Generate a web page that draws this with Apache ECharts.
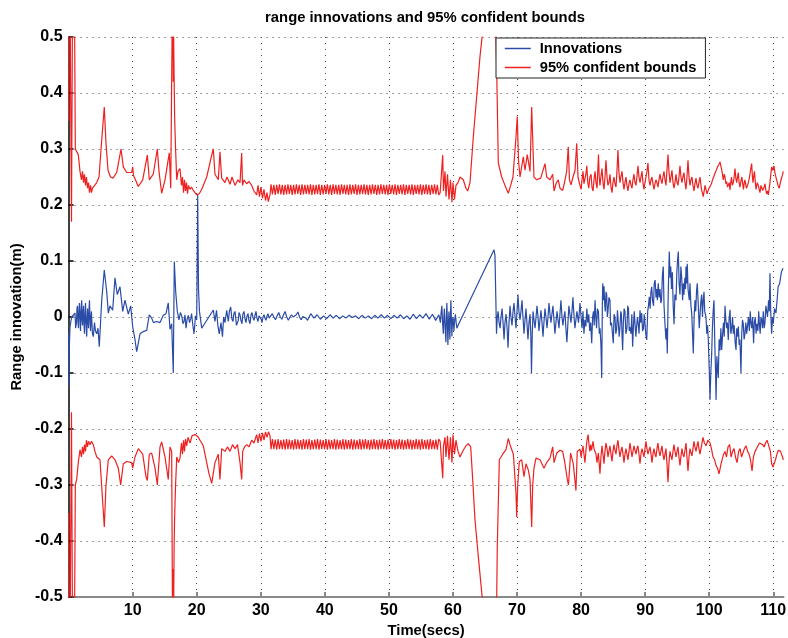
<!DOCTYPE html>
<html>
<head>
<meta charset="utf-8">
<script src="https://cdn.jsdelivr.net/npm/echarts@6/dist/echarts.min.js"></script>
<style>html,body{margin:0;padding:0;background:#fff;overflow:hidden}#c{width:788px;height:638px}</style>
</head>
<body>
<div id="c"></div>
<script>
const FONT = '"Liberation Sans", Arial, Helvetica, sans-serif';
const titleText = 'range innovations and 95% confident bounds';
const xName = 'Time(secs)';
const yName = 'Range innovation(m)';
const legendNames = ['Innovations', '95% confident bounds'];

const xTicks = [10, 20, 30, 40, 50, 60, 70, 80, 90, 100, 110];
const yTicks = [-0.5, -0.4, -0.3, -0.2, -0.1, 0, 0.1, 0.2, 0.3, 0.4, 0.5];

// Innovations [time, value], 0 s - 80 s
const innovationsStart = [
[0,-0.03],[0.05,-0.125],[0.1,-0.06],[0.22,-0.017],[0.48,0.0],[1.0,0.007],[1.1,-0.02],[1.23,-0.01],[1.31,0.015],[1.39,0.02],[1.47,-0.01],[1.55,-0.02],
[1.62,0.01],[1.7,0.025],[1.78,0.0],[1.86,-0.025],[1.95,0.012],[2.05,0.03],[2.1,-0.005],[2.17,-0.015],[2.25,0.008],[2.33,0.02],[2.4,-0.012],
[2.48,-0.03],[2.56,0.005],[2.64,0.025],[2.72,-0.01],[2.83,-0.035],[2.9,0.0],[2.95,0.015],[3.03,-0.005],[3.11,-0.02],[3.18,0.012],[3.26,0.03],
[3.34,-0.005],[3.42,-0.025],[3.5,0.0],[3.57,0.01],[3.65,-0.015],[3.73,-0.03],[3.86,-0.035],[4.04,-0.01],[4.2,-0.025],[4.39,-0.03],[4.59,-0.02],[4.79,-0.053],
[5.17,0.03],[5.57,0.084],[5.95,0.045],[6.2,0.007],[6.46,0.02],[6.88,0.012],[7.24,0.07],[7.6,0.04],[8.02,0.054],[8.45,0.01],[8.8,0.03],[9.32,0.005],
[9.69,0.02],[10.0,-0.017],[10.37,-0.041],[10.63,-0.062],[11.15,-0.03],[11.66,-0.026],[12.19,-0.024],[12.6,0.004],[12.97,-0.002],[13.25,-0.01],
[13.75,-0.008],[14.27,-0.01],[14.78,0.003],[15.2,0.006],[15.56,0.025],[15.83,-0.022],[16.09,-0.012],[16.34,-0.1],[16.5,0.099],[16.72,0.045],
[16.97,0.01],[17.23,-0.005],[17.45,0.008],[17.66,0.002],[17.85,-0.012],[18.01,-0.008],[18.17,0.004],[18.33,-0.02],[18.5,-0.004],[18.69,0.003],[18.88,-0.01],[19.06,-0.003],
[19.2,0.006],[19.37,-0.012],[19.58,-0.03],[19.81,0.002],[20.0,-0.005],[20.15,0.218],[20.28,0.05],[20.43,0.01],[20.5,0.0125],[20.78,-0.02],[22.59,0.0125],
[22.85,-0.008],[23.09,0.012],[23.3,-0.015],[23.52,-0.03],[23.79,-0.01],[24.02,-0.035],[24.2,0.0],[24.41,-0.01],[24.68,0.012],[24.93,-0.008],[25.1,0.01],[25.3,0.018],
[25.5,-0.004],[25.66,-0.008],[25.8,0.006],[25.98,0.01],[26.21,-0.015],[26.49,-0.006],[26.6,0.008],[26.76,0.004],[26.9,-0.006],[27.07,-0.012],[27.2,0.005],[27.38,0.01],
[27.55,-0.004],[27.69,-0.01],[27.85,0.002],[28.01,0.006],[28.15,-0.006],[28.32,-0.012],[28.48,0.004],[28.63,0.008],[28.8,-0.002],[28.94,-0.006],[29.1,0.003],[29.25,0.01],
[29.4,-0.002],[29.57,-0.008],[29.72,0.002],[29.88,0.005],[30.03,-0.003],[30.19,-0.01],[30.35,0.0],[30.5,0.004],[30.65,-0.002],[30.81,-0.006],[30.97,0.002],[31.13,0.006],
[31.3,-0.002],[31.44,-0.004],[31.8,0.006],[32.05,0.0],[32.3,-0.005],[32.55,0.002],[32.8,0.008],[33.05,0.0],[33.3,-0.004],[33.55,0.004],[33.8,0.01],[34.05,0.0],[34.3,-0.006],
[34.55,0.0],[34.8,0.004],[35.05,0.0],[35.3,-0.003],[35.55,0.004],[35.8,0.009],[36.05,0.0],[36.3,-0.005],[36.55,0.001],[36.8,0.003],[37.05,-0.002],[37.3,-0.006],
[37.55,0.0],[37.8,0.006],[38.3,-0.002],[38.8,0.004],[39.3,-0.004],[39.8,0.002],[40.3,-0.003],[40.8,0.004],[41.3,-0.002],[41.8,0.003],[42.3,-0.003],[42.8,0.002],
[43.3,-0.002],[43.8,0.003],[44.3,-0.001],[44.8,0.002],[45.3,-0.003],[45.8,0.003],[46.3,-0.002],[46.8,0.002],[47.3,-0.003],[47.8,0.003],[48.3,-0.002],
[48.8,0.004],[49.3,-0.002],[49.8,0.003],[50.3,-0.003],[50.8,0.003],[51.3,-0.002],[51.8,0.004],[52.3,-0.003],[52.8,0.002],[53.3,-0.004],[53.8,0.005],
[54.3,-0.003],[54.8,0.004],[55.3,-0.002],[55.8,0.006],[56.3,-0.004],[56.8,0.005],[57.3,-0.006],[57.8,0.004],[58.04,-0.01],[58.15,0.008],[58.27,0.02],
[58.38,-0.01],[58.5,-0.03],[58.58,0.0],[58.66,0.015],[58.78,-0.02],[58.9,-0.045],[58.97,0.0],[59.05,0.025],[59.13,-0.01],[59.21,-0.05],[59.29,-0.015],[59.37,0.01],
[59.45,-0.015],[59.52,-0.04],[59.6,0.0],[59.68,0.03],[59.75,0.0],[59.83,-0.035],[59.91,-0.01],[59.99,0.0],[60.07,-0.01],[60.15,-0.025],[60.27,-0.005],[60.38,0.005],
[60.5,-0.01],[60.62,-0.02],[60.79,-0.015],[66.41,0.12],[66.56,0.11],[66.8,-0.03],[66.92,0.0],[67.05,0.01],[67.2,-0.01],[67.36,-0.02],[67.5,0.0],[67.67,0.015],
[67.82,-0.01],[67.98,-0.04],[68.12,-0.01],[68.29,0.005],[68.45,-0.02],[68.6,-0.055],[68.75,-0.01],[68.91,0.02],[69.05,0.0],[69.22,-0.015],[69.38,0.01],[69.53,0.025],
[69.7,0.0],[69.84,-0.02],[70.0,0.01],[70.15,0.04],[70.3,0.01],[70.47,-0.005],[70.62,0.01],[70.78,0.03],[70.93,0.0],[71.09,-0.03],[71.25,-0.005],[71.4,0.015],
[71.55,-0.01],[71.71,-0.04],[71.87,-0.01],[72.03,0.005],[72.15,-0.03],[72.26,-0.1],[72.38,-0.03],[72.5,0.01],[72.65,-0.005],[72.81,-0.02],[72.97,0.0],[73.12,0.02],
[73.28,0.0],[73.43,-0.025],[73.58,-0.005],[73.74,0.012],[73.9,-0.01],[74.06,-0.035],[74.2,-0.01],[74.37,0.015],[74.52,0.0],[74.68,-0.02],[74.84,0.0],[74.99,0.025],
[75.15,0.005],[75.3,-0.01],[75.45,0.005],[75.61,0.02],[75.77,-0.005],[75.92,-0.03],[76.08,-0.01],[76.24,0.01],[76.4,-0.005],[76.55,-0.02],[76.7,0.005],[76.86,0.03],
[77.02,0.0],[77.17,-0.015],[77.32,0.0],[77.48,0.01],[77.63,-0.02],[77.79,-0.045],[77.95,-0.01],[78.1,0.02],[78.26,0.005],[78.42,-0.01],[78.58,0.01],[78.73,0.035],
[78.88,0.005],[79.04,-0.02],[79.2,-0.005],[79.35,0.01],[79.6,-0.01],[79.83,0.025]
];

// Innovations [time, value], 80 s - end
const innovationsEnd = [
[80.0,0.025],[80.15,-0.02],[80.3,0.01],[80.45,-0.03],[80.6,-0.005],[80.75,-0.017],[80.9,0.015],[81.05,-0.01],[81.2,0.005],[81.35,-0.025],
[81.5,-0.01],[81.66,-0.047],[81.8,0.0],[81.94,0.01],[82.05,-0.015],[82.18,0.03],[82.3,0.0],[82.42,-0.02],[82.55,0.015],[82.7,0.01],
[82.85,-0.03],[82.96,-0.02],[83.1,-0.05],[83.22,-0.109],[83.32,0.02],[83.38,0.06],[83.5,0.03],[83.58,0.055],[83.7,0.02],[83.78,0.01],
[83.9,0.045],[84.0,0.04],[84.1,0.0],[84.2,0.01],[84.35,0.035],[84.51,0.03],[84.6,-0.015],[84.75,-0.01],[84.9,-0.03],[85.03,-0.047],
[85.15,0.005],[85.29,0.0],[85.42,-0.03],[85.55,-0.022],[85.68,0.012],[85.8,0.01],[85.95,-0.035],[86.07,-0.018],[86.2,0.01],[86.3,0.005],
[86.4,-0.035],[86.49,-0.059],[86.6,-0.01],[86.72,0.015],[86.85,0.01],[87.0,-0.03],[87.16,-0.02],[87.28,0.02],[87.4,0.015],[87.52,-0.025],
[87.63,-0.018],[87.8,-0.03],[87.92,0.005],[88.05,-0.053],[88.2,-0.01],[88.3,0.01],[88.41,0.007],[88.55,-0.035],[88.65,-0.02],[88.8,0.0],
[88.93,-0.013],[89.05,-0.03],[89.2,0.012],[89.32,-0.01],[89.46,0.007],[89.6,-0.025],[89.74,-0.02],[89.86,0.005],[89.98,-0.013],[90.1,-0.03],
[90.25,-0.041],[90.4,0.01],[90.52,0.02],[90.65,0.036],[90.78,0.015],[90.9,0.045],[91.03,0.054],[91.15,0.03],[91.31,0.02],[91.42,0.06],
[91.56,0.066],[91.7,0.035],[91.8,0.05],[91.91,0.03],[92.05,0.06],[92.18,0.035],[92.32,0.05],[92.45,0.025],[92.56,0.03],[92.7,0.075],
[92.83,0.09],[92.95,0.02],[93.1,-0.013],[93.25,-0.04],[93.35,-0.02],[93.46,-0.065],[93.6,0.04],[93.77,0.117],[93.9,0.07],[94.0,0.09],
[94.12,0.05],[94.25,0.08],[94.38,0.02],[94.51,-0.013],[94.65,0.04],[94.82,0.03],[94.95,0.08],[95.05,0.1],[95.18,0.117],[95.3,0.06],
[95.44,0.04],[95.58,0.09],[95.71,0.07],[95.85,0.03],[95.95,0.06],[96.06,0.04],[96.2,0.07],[96.3,0.05],[96.38,0.09],[96.5,0.06],
[96.58,0.095],[96.7,0.05],[96.89,0.03],[97.0,0.06],[97.15,0.02],[97.27,0.007],[97.4,-0.03],[97.52,-0.065],[97.65,0.0],[97.78,0.03],
[97.9,0.01],[98.02,0.045],[98.14,0.06],[98.3,0.02],[98.45,-0.02],[98.6,0.01],[98.72,0.03],[98.83,0.04],[98.95,0.0],[99.07,0.03],
[99.19,0.045],[99.3,0.01],[99.5,0.0],[99.62,-0.03],[99.75,-0.015],[99.86,-0.041],[100.0,-0.09],[100.13,-0.148],[100.25,-0.1],[100.39,-0.065],
[100.5,-0.02],[100.62,0.01],[100.75,0.03],[100.88,-0.05],[101.0,-0.1],[101.07,-0.148],[101.2,-0.07],[101.3,-0.09],[101.42,-0.109],[101.55,-0.04],
[101.69,-0.06],[101.82,-0.02],[101.95,-0.059],[102.1,-0.03],[102.23,-0.01],[102.35,-0.035],[102.47,0.02],[102.6,-0.005],[102.73,-0.02],[102.85,-0.01],
[102.98,-0.041],[103.1,-0.005],[103.25,0.013],[103.38,-0.03],[103.52,-0.02],[103.65,0.0],[103.77,-0.03],[103.9,-0.015],[104.05,-0.045],[104.19,-0.059],
[104.3,-0.02],[104.42,-0.035],[104.55,-0.017],[104.68,-0.05],[104.8,-0.04],[104.96,-0.1],[105.08,-0.03],[105.2,-0.005],[105.32,-0.012],[105.45,-0.04],
[105.58,-0.03],[105.72,-0.01],[105.85,-0.03],[106.0,-0.015],[106.13,0.0],[106.27,-0.025],[106.41,0.01],[106.52,-0.01],[106.64,-0.02],[106.78,0.0],
[106.93,-0.047],[107.05,-0.01],[107.19,0.0],[107.32,-0.03],[107.45,-0.012],[107.6,-0.025],[107.73,0.01],[107.85,-0.015],[107.96,-0.03],[108.08,0.0],
[108.2,-0.005],[108.32,-0.02],[108.45,0.01],[108.58,-0.02],[108.71,-0.01],[108.85,0.02],[108.98,0.017],[109.1,0.0],[109.27,0.03],[109.38,0.01],
[109.49,0.078],[109.6,0.01],[109.75,-0.03],[109.88,0.0],[110.0,-0.012],[110.2,0.015],[110.42,0.007],[110.6,0.03],[110.76,0.054],[111.0,0.06],
[111.28,0.081],[111.52,0.087]
];

// Upper 95% bound, before the steady stretch
const upperHead = [
[0,0.35],[0.05,0.9],[0.35,0.9],[0.45,0.17],[0.65,0.17],[0.75,0.9],[1.0,0.9],[1.05,0.30],[1.51,0.29],[1.78,0.26],
[2.01,0.245],[2.17,0.26],[2.33,0.24],[2.48,0.255],[2.64,0.235],[2.79,0.25],[2.95,0.23],[3.11,0.24],[3.26,0.222],[3.42,0.235],
[3.57,0.222],[3.73,0.23],[3.96,0.228],[4.39,0.24],[4.75,0.25],[5.17,0.316],[5.57,0.375],[5.84,0.31],[6.15,0.262],[6.54,0.25],
[6.93,0.248],[7.51,0.258],[8.18,0.30],[8.54,0.268],[9.07,0.258],[9.85,0.258],[10.0,0.268],[10.13,0.253],[10.88,0.233],[11.57,0.245],
[12.29,0.289],[12.6,0.245],[13.22,0.255],[13.85,0.30],[14.11,0.26],[14.53,0.221],[15.05,0.245],[15.72,0.293],[15.94,0.23],[16.19,0.55],
[16.26,0.6],[16.33,0.42],[16.4,0.5],[16.47,0.43],[16.55,0.36],[16.62,0.33],[16.7,0.30],[16.88,0.245],[17.08,0.26],[17.39,0.265],[17.62,0.235],[17.78,0.25],[17.94,0.222],[18.09,0.245],
[18.25,0.225],[18.4,0.24],[18.56,0.22],[18.72,0.235],[18.95,0.228],[19.18,0.232],[19.47,0.226],[19.73,0.222],[20.0,0.218],[20.4,0.22],
[20.78,0.228],[21.56,0.25],[22.34,0.289],[22.59,0.30],[22.85,0.255],[23.37,0.245],[23.63,0.295],[23.9,0.248],[24.41,0.24],[24.73,0.25],
[25.2,0.237],[25.51,0.25],[25.98,0.235],[26.44,0.245],[26.76,0.24],[27.02,0.293],[27.15,0.235],[27.38,0.245],[27.8,0.238],[28.16,0.242],
[28.58,0.235],[28.94,0.225],[29.36,0.218],[29.57,0.235],[29.8,0.215],[30.03,0.232],[30.27,0.212],[30.5,0.228],[30.74,0.208],[30.97,0.222],
[31.17,0.206],[31.44,0.218]
];

// Sample times of the steady, rapidly oscillating stretch (31.6 s - 58 s)
const bandTimes = [
31.6,31.82,32.04,32.26,32.48,32.7,32.92,33.14,33.36,33.58,
33.8,34.02,34.24,34.46,34.68,34.9,35.12,35.34,35.56,35.78,
36.0,36.22,36.44,36.66,36.88,37.1,37.32,37.54,37.76,37.98,
38.2,38.42,38.64,38.86,39.08,39.3,39.52,39.74,39.96,40.18,
40.4,40.62,40.84,41.06,41.28,41.5,41.72,41.94,42.16,42.38,
42.6,42.82,43.04,43.26,43.48,43.7,43.92,44.14,44.36,44.58,
44.8,45.02,45.24,45.46,45.68,45.9,46.12,46.34,46.56,46.78,
47.0,47.22,47.44,47.66,47.88,48.1,48.32,48.54,48.76,48.98,
49.2,49.42,49.64,49.86,50.08,50.3,50.52,50.74,50.96,51.18,
51.4,51.62,51.84,52.06,52.28,52.5,52.72,52.94,53.16,53.38,
53.6,53.82,54.04,54.26,54.48,54.7,54.92,55.14,55.36,55.58,
55.8,56.02,56.24,56.46,56.68,56.9,57.12,57.34,57.56,57.78,
58.0
];
const upperBandValues = [
0.237,0.219,0.236,0.218,0.236,0.220,0.237,0.219,0.236,0.218,
0.236,0.219,0.237,0.220,0.236,0.218,0.236,0.219,0.237,0.220,
0.236,0.218,0.237,0.219,0.236,0.220,0.236,0.219,0.237,0.218,
0.236,0.219,0.236,0.220,0.237,0.218,0.236,0.219,0.236,0.220,
0.237,0.219,0.236,0.218,0.237,0.220,0.236,0.219,0.236,0.218,
0.237,0.220,0.236,0.219,0.236,0.218,0.237,0.219,0.236,0.220,
0.237,0.218,0.236,0.219,0.236,0.220,0.237,0.219,0.236,0.218,
0.236,0.219,0.237,0.220,0.236,0.218,0.236,0.219,0.237,0.220,
0.236,0.219,0.236,0.218,0.237,0.220,0.236,0.219,0.237,0.218,
0.236,0.220,0.236,0.219,0.237,0.218,0.236,0.220,0.236,0.219,
0.237,0.218,0.236,0.220,0.236,0.219,0.237,0.218,0.236,0.220,
0.237,0.219,0.236,0.218,0.236,0.220,0.237,0.219,0.236,0.218,
0.222
];
const lowerBandValues = [
-0.236,-0.218,-0.236,-0.219,-0.237,-0.218,-0.236,-0.220,-0.236,-0.219,
-0.237,-0.218,-0.236,-0.219,-0.236,-0.220,-0.237,-0.218,-0.236,-0.219,
-0.236,-0.220,-0.237,-0.218,-0.236,-0.219,-0.236,-0.218,-0.237,-0.220,
-0.236,-0.219,-0.236,-0.218,-0.237,-0.219,-0.236,-0.220,-0.236,-0.218,
-0.237,-0.219,-0.236,-0.220,-0.236,-0.218,-0.237,-0.219,-0.236,-0.220,
-0.236,-0.218,-0.237,-0.219,-0.236,-0.220,-0.236,-0.218,-0.237,-0.219,
-0.236,-0.220,-0.236,-0.218,-0.237,-0.219,-0.236,-0.218,-0.236,-0.220,
-0.237,-0.219,-0.236,-0.218,-0.236,-0.220,-0.237,-0.219,-0.236,-0.218,
-0.236,-0.220,-0.237,-0.219,-0.236,-0.218,-0.236,-0.219,-0.237,-0.220,
-0.236,-0.218,-0.236,-0.219,-0.237,-0.220,-0.236,-0.218,-0.236,-0.219,
-0.237,-0.220,-0.236,-0.218,-0.236,-0.219,-0.237,-0.218,-0.236,-0.220,
-0.236,-0.219,-0.237,-0.218,-0.236,-0.220,-0.236,-0.219,-0.237,-0.218,
-0.222
];

// Upper 95% bound, after the steady stretch
const upperTail = [
[58.04,0.222],[58.4,0.289],[58.52,0.225],[58.76,0.26],[58.91,0.215],[59.15,0.255],[59.38,0.21],[59.61,0.245],[59.85,0.205],[60.0,0.24],
[60.24,0.21],[60.47,0.235],[60.79,0.24],[61.1,0.25],[61.61,0.245],[62.04,0.23],[62.3,0.225],[62.66,0.24],[63.18,0.322],[63.7,0.393],
[64.22,0.465],[64.64,0.51],[65.0,0.6],[65.78,0.65],[66.41,0.6],[66.72,0.5],[66.83,0.44],[67.08,0.275],[67.61,0.25],[68.12,0.235],
[68.64,0.221],[69.01,0.235],[69.37,0.25],[69.84,0.322],[70.04,0.358],[70.23,0.28],[70.47,0.25],[70.98,0.286],[71.25,0.262],[71.6,0.29],
[72.03,0.26],[72.29,0.375],[72.5,0.3],[72.65,0.25],[73.07,0.245],[73.7,0.248],[74.37,0.274],[74.63,0.25],[75.15,0.245],[75.57,0.255],
[75.78,0.225],[76.09,0.238],[76.44,0.245],[76.71,0.23],[77.13,0.226],[77.41,0.24],[77.75,0.26],[78.0,0.304],[78.19,0.245],[78.43,0.236],
[78.74,0.25],[79.06,0.262],[79.32,0.31],[79.52,0.25],[79.72,0.24],
[80.0,0.228],[80.15,0.245],[80.3,0.26],[80.45,0.238],[80.6,0.235],[80.75,0.255],[80.9,0.27],[81.05,0.24],[81.2,0.23],[81.38,0.25],
[81.56,0.255],[81.7,0.232],[81.87,0.225],[82.02,0.245],[82.18,0.26],[82.33,0.24],[82.49,0.23],[82.6,0.26],[82.72,0.29],[82.83,0.25],
[82.95,0.235],[83.1,0.25],[83.27,0.265],[83.42,0.24],[83.58,0.228],[83.73,0.25],[83.89,0.28],[84.05,0.25],[84.2,0.235],[84.35,0.24],
[84.51,0.255],[84.67,0.232],[84.83,0.222],[84.98,0.24],[85.14,0.25],[85.3,0.238],[85.45,0.232],[85.6,0.26],[85.76,0.298],[85.9,0.26],
[86.07,0.24],[86.22,0.25],[86.39,0.26],[86.55,0.24],[86.7,0.228],[86.85,0.24],[87.01,0.25],[87.16,0.235],[87.32,0.225],[87.48,0.238],
[87.63,0.245],[87.8,0.235],[87.95,0.23],[88.1,0.245],[88.26,0.255],[88.42,0.24],[88.57,0.235],[88.72,0.25],[88.88,0.27],[89.04,0.25],
[89.2,0.24],[89.35,0.25],[89.51,0.26],[89.66,0.24],[89.82,0.228],[89.98,0.24],[90.13,0.25],[90.28,0.26],[90.44,0.275],[90.6,0.245],
[90.76,0.235],[90.92,0.245],[91.07,0.25],[91.22,0.238],[91.38,0.228],[91.54,0.238],[91.69,0.245],[91.85,0.24],[92.0,0.232],[92.16,0.245],
[92.32,0.255],[92.48,0.245],[92.63,0.238],[92.78,0.25],[92.94,0.26],[93.1,0.245],[93.25,0.235],[93.4,0.26],[93.57,0.29],[93.72,0.26],
[93.88,0.24],[94.03,0.25],[94.19,0.262],[94.35,0.24],[94.5,0.23],[94.66,0.24],[94.82,0.255],[94.98,0.24],[95.13,0.235],[95.28,0.25],
[95.44,0.27],[95.6,0.25],[95.75,0.24],[95.9,0.25],[96.06,0.258],[96.22,0.24],[96.38,0.228],[96.53,0.25],[96.69,0.28],[96.85,0.25],
[97.0,0.235],[97.15,0.245],[97.31,0.25],[97.47,0.235],[97.63,0.225],[97.78,0.238],[97.94,0.248],[98.1,0.235],[98.25,0.23],[98.4,0.24],
[98.56,0.25],[98.8,0.228],[99.08,0.215],[99.35,0.235],[99.66,0.22],[99.9,0.228],[100.13,0.23],[100.35,0.238],[100.52,0.245],[100.7,0.25],[100.91,0.257],
[101.1,0.262],[101.3,0.268],[101.5,0.272],[101.69,0.277],[101.85,0.268],[102.0,0.26],[102.2,0.245],[102.35,0.255],[102.47,0.25],[102.6,0.238],[102.73,0.242],[102.87,0.232],[103.01,0.235],
[103.13,0.24],[103.25,0.227],[103.36,0.24],[103.48,0.25],[103.62,0.235],[103.77,0.24],[103.9,0.25],[104.03,0.265],[104.16,0.248],[104.29,0.24],[104.42,0.25],[104.54,0.258],[104.67,0.24],[104.8,0.232],
[104.95,0.242],[105.11,0.25],[105.23,0.238],[105.35,0.228],[105.47,0.24],[105.58,0.245],[105.8,0.23],[106.0,0.235],[106.15,0.242],[106.29,0.25],[106.45,0.262],[106.63,0.274],[106.75,0.25],[106.84,0.24],
[106.95,0.252],[107.07,0.26],[107.2,0.24],[107.31,0.228],[107.5,0.24],[107.67,0.235],[107.8,0.228],[107.93,0.222],[108.08,0.235],[108.24,0.232],[108.35,0.226],[108.45,0.224],
[108.58,0.232],[108.71,0.238],[108.85,0.226],[108.98,0.22],[109.1,0.225],[109.23,0.218],[109.35,0.228],[109.49,0.24],[109.62,0.255],[109.75,0.268],[109.9,0.262],[110.11,0.27],[110.3,0.255],[110.53,0.245],
[110.75,0.235],[110.94,0.23],[111.08,0.238],[111.21,0.245],[111.4,0.252],[111.57,0.26]
];

// Lower 95% bound, before the steady stretch
const lowerHead = [
[0,-0.35],[0.05,-0.9],[0.35,-0.9],[0.45,-0.17],[0.65,-0.17],[0.75,-0.9],[1.0,-0.9],[1.05,-0.30],[1.26,-0.29],[1.51,-0.26],
[1.78,-0.237],[2.01,-0.25],[2.17,-0.232],[2.33,-0.245],[2.48,-0.228],[2.64,-0.24],[2.79,-0.22],[2.95,-0.232],[3.11,-0.222],[3.34,-0.228],
[3.57,-0.222],[3.86,-0.228],[4.12,-0.24],[4.39,-0.25],[4.9,-0.255],[5.17,-0.303],[5.57,-0.375],[5.84,-0.30],[6.2,-0.255],[6.73,-0.248],
[7.24,-0.255],[7.76,-0.27],[8.13,-0.30],[8.54,-0.262],[9.07,-0.258],[9.85,-0.26],[10.0,-0.27],[10.37,-0.25],[10.88,-0.235],[11.57,-0.245],
[12.08,-0.285],[12.29,-0.292],[12.6,-0.245],[12.97,-0.243],[13.49,-0.27],[13.85,-0.30],[14.27,-0.232],[14.53,-0.223],[15.05,-0.25],[15.56,-0.29],
[15.83,-0.232],[16.09,-0.24],[16.25,-0.6],[16.33,-0.45],[16.4,-0.52],[16.47,-0.41],[16.55,-0.36],[16.62,-0.33],[16.7,-0.30],[16.88,-0.25],[17.16,-0.26],[17.39,-0.252],[17.62,-0.225],[17.78,-0.245],
[17.94,-0.22],[18.09,-0.24],[18.25,-0.218],[18.44,-0.23],[18.64,-0.215],[18.95,-0.225],[19.27,-0.212],[19.73,-0.21],[20.2,-0.214],[20.51,-0.22],
[21.03,-0.23],[21.56,-0.26],[21.92,-0.28],[22.34,-0.297],[22.59,-0.30],[22.85,-0.26],[23.37,-0.245],[23.63,-0.29],[23.9,-0.235],[24.41,-0.24],
[24.8,-0.232],[25.2,-0.24],[25.59,-0.228],[25.98,-0.235],[26.37,-0.228],[26.76,-0.26],[27.02,-0.29],[27.18,-0.24],[27.46,-0.232],[27.8,-0.228],
[28.16,-0.232],[28.58,-0.22],[28.94,-0.225],[29.36,-0.21],[29.57,-0.225],[29.8,-0.208],[30.03,-0.222],[30.27,-0.207],[30.5,-0.22],[30.74,-0.205],
[30.97,-0.215],[31.2,-0.205],[31.44,-0.212]
];

// Lower 95% bound, after the steady stretch
const lowerTail = [
[58.04,-0.222],[58.4,-0.288],[58.52,-0.23],[58.76,-0.215],[58.91,-0.25],[59.15,-0.212],[59.38,-0.255],[59.61,-0.215],[59.85,-0.26],[60.0,-0.21],
[60.24,-0.245],[60.47,-0.22],[60.79,-0.24],[61.1,-0.25],[61.61,-0.238],[62.04,-0.23],[62.39,-0.226],[62.77,-0.232],[63.08,-0.29],[63.44,-0.362],
[63.96,-0.428],[64.64,-0.51],[65.0,-0.6],[65.78,-0.65],[66.41,-0.6],[66.83,-0.5],[66.92,-0.41],[67.24,-0.255],[67.77,-0.245],[68.28,-0.237],
[68.64,-0.217],[68.91,-0.228],[69.43,-0.245],[69.84,-0.315],[69.95,-0.357],[70.11,-0.3],[70.36,-0.258],[70.73,-0.255],[71.09,-0.285],[71.4,-0.262],
[71.76,-0.273],[72.03,-0.29],[72.29,-0.375],[72.45,-0.3],[72.65,-0.27],[72.96,-0.252],[73.59,-0.255],[74.21,-0.27],[74.63,-0.26],[75.15,-0.252],
[75.57,-0.232],[75.78,-0.26],[76.2,-0.243],[76.71,-0.238],[77.13,-0.24],[77.49,-0.262],[77.85,-0.29],[78.03,-0.3],[78.37,-0.243],[78.78,-0.262],
[79.2,-0.31],[79.4,-0.24],[79.83,-0.236],
[80.0,-0.25],[80.15,-0.24],[80.3,-0.23],[80.45,-0.245],[80.6,-0.26],[80.75,-0.24],[80.9,-0.222],[81.1,-0.21],[81.25,-0.23],[81.37,-0.24],
[81.5,-0.228],[81.63,-0.238],[81.75,-0.23],[81.87,-0.222],[82.02,-0.235],[82.18,-0.232],[82.33,-0.245],[82.49,-0.26],[82.6,-0.25],[82.69,-0.243],
[82.82,-0.26],[82.95,-0.28],[83.1,-0.25],[83.27,-0.23],[83.42,-0.245],[83.58,-0.262],[83.73,-0.24],[83.89,-0.225],[84.05,-0.235],[84.2,-0.25],
[84.35,-0.24],[84.51,-0.23],[84.67,-0.245],[84.83,-0.258],[84.98,-0.24],[85.14,-0.228],[85.3,-0.238],[85.45,-0.245],[85.6,-0.23],[85.76,-0.22],
[85.9,-0.235],[86.07,-0.25],[86.22,-0.24],[86.39,-0.232],[86.55,-0.245],[86.7,-0.26],[86.85,-0.245],[87.01,-0.235],[87.16,-0.245],[87.32,-0.255],
[87.48,-0.24],[87.63,-0.225],[87.8,-0.238],[87.95,-0.25],[88.1,-0.24],[88.26,-0.23],[88.42,-0.238],[88.57,-0.245],[88.72,-0.235],[88.88,-0.23],
[89.04,-0.245],[89.2,-0.262],[89.35,-0.245],[89.51,-0.235],[89.66,-0.242],[89.82,-0.25],[89.98,-0.235],[90.13,-0.222],[90.28,-0.235],[90.44,-0.245],
[90.6,-0.238],[90.76,-0.232],[90.92,-0.245],[91.07,-0.26],[91.22,-0.245],[91.38,-0.235],[91.54,-0.245],[91.69,-0.25],[91.85,-0.235],[92.0,-0.225],
[92.16,-0.24],[92.32,-0.248],[92.48,-0.238],[92.63,-0.23],[92.78,-0.245],[92.94,-0.255],[93.1,-0.245],[93.25,-0.235],[93.4,-0.26],[93.57,-0.295],
[93.72,-0.26],[93.88,-0.24],[94.03,-0.248],[94.19,-0.255],[94.35,-0.24],[94.5,-0.228],[94.66,-0.24],[94.82,-0.25],[94.98,-0.24],[95.13,-0.232],
[95.28,-0.25],[95.44,-0.265],[95.6,-0.248],[95.75,-0.235],[95.9,-0.245],[96.06,-0.25],[96.22,-0.238],[96.38,-0.225],[96.53,-0.25],[96.69,-0.275],
[96.85,-0.25],[97.0,-0.235],[97.15,-0.242],[97.31,-0.248],[97.47,-0.235],[97.63,-0.222],[97.78,-0.232],[97.94,-0.24],[98.1,-0.23],[98.25,-0.222],
[98.4,-0.235],[98.56,-0.245],[98.8,-0.23],[99.03,-0.215],[99.25,-0.225],[99.5,-0.23],[99.8,-0.22],[100.13,-0.225],[100.35,-0.235],[100.6,-0.25],
[100.85,-0.255],[101.07,-0.265],[101.3,-0.27],[101.54,-0.28],[101.8,-0.265],[102.0,-0.255],[102.25,-0.245],[102.47,-0.24],[102.7,-0.25],[102.94,-0.232],
[103.2,-0.228],[103.41,-0.25],[103.65,-0.24],[103.88,-0.235],[104.1,-0.25],[104.35,-0.26],[104.6,-0.24],[104.82,-0.235],[105.05,-0.25],[105.29,-0.248],
[105.5,-0.235],[105.76,-0.23],[106.0,-0.24],[106.23,-0.245],[106.45,-0.255],[106.69,-0.275],[106.9,-0.25],[107.16,-0.24],[107.4,-0.235],[107.63,-0.232],
[107.85,-0.225],[108.1,-0.222],[108.35,-0.228],[108.57,-0.232],[108.8,-0.225],[109.04,-0.22],[109.2,-0.218],[109.35,-0.222],[109.55,-0.24],[109.75,-0.262],
[109.95,-0.268],[110.11,-0.27],[110.35,-0.255],[110.58,-0.245],[110.8,-0.238],[110.97,-0.235],[111.15,-0.24],[111.28,-0.245],[111.45,-0.25],[111.57,-0.255]
];

const innovations = innovationsStart.concat(innovationsEnd);
const upperBound = upperHead.concat(bandTimes.map((t, i) => [t, upperBandValues[i]]), upperTail);
const lowerBound = lowerHead.concat(bandTimes.map((t, i) => [t, lowerBandValues[i]]), lowerTail);

const BLUE = '#2a4ca6';
const RED = '#ee2020';
const chart = echarts.init(document.getElementById('c'), null, {renderer: 'canvas', width: 788, height: 638});
const gridDots = {color: '#444', width: 1, type: [1, 5]};
chart.setOption({
  animation: false,
  backgroundColor: '#ffffff',
  graphic: [{
    type: 'text', x: 425, y: 18,
    style: {text: titleText, align: 'center', verticalAlign: 'middle',
      font: 'bold 14.8px ' + FONT, fill: '#000'}
  }],
  grid: {left: 68.6, right: 4.5, top: 37, bottom: 41, outerBoundsMode: 'none', containLabel: false},
  legend: {
    data: legendNames,
    orient: 'vertical', left: 496, top: 38,
    backgroundColor: '#fff', borderColor: '#222', borderWidth: 1,
    padding: [3, 9, 3, 8], itemWidth: 26, itemHeight: 14, itemGap: 4,
    itemStyle: {opacity: 0},
    lineStyle: {width: 1.5},
    textStyle: {fontFamily: FONT, fontSize: 14.7, fontWeight: 'bold', color: '#000', padding: [0, 0, 0, 4]}
  },
  xAxis: {
    type: 'value', min: 0, max: 111.6, interval: 10,
    name: xName, nameLocation: 'middle', nameGap: 24,
    nameTextStyle: {fontFamily: FONT, fontSize: 14.8, fontWeight: 'bold', color: '#000'},
    axisLine: {show: true, onZero: false, lineStyle: {color: '#888', width: 2}},
    axisTick: {show: true, inside: true, length: 5, lineStyle: {color: '#888', width: 2}},
    axisLabel: {margin: 6, fontFamily: FONT, fontSize: 16, fontWeight: 'bold', color: '#000',
      showMinLabel: false, showMaxLabel: false,
      formatter: v => (xTicks.indexOf(Math.round(v)) >= 0 && Math.abs(v - Math.round(v)) < 1e-6) ? String(Math.round(v)) : ''},
    splitLine: {show: true, showMinLine: false, showMaxLine: false, lineStyle: gridDots}
  },
  yAxis: {
    type: 'value', min: -0.5, max: 0.5, interval: 0.1,
    name: yName, nameLocation: 'middle', nameGap: 44,
    nameTextStyle: {fontFamily: FONT, fontSize: 14.8, fontWeight: 'bold', color: '#000'},
    axisLine: {show: true, onZero: false, lineStyle: {color: '#000', width: 1.5}},
    axisTick: {show: true, inside: true, length: 5, lineStyle: {color: '#000', width: 1.5}},
    axisLabel: {margin: 6, fontFamily: FONT, fontSize: 16, fontWeight: 'bold', color: '#000',
      formatter: v => {
        const r = Math.round(v * 10) / 10;
        const k = yTicks.find(t => Math.abs(t - r) < 1e-9);
        return k === undefined ? '' : String(k);
      }},
    splitLine: {show: true, showMinLine: false, lineStyle: gridDots}
  },
  series: [
    {name: legendNames[0], type: 'line', data: innovations, symbol: 'none', clip: true,
      lineStyle: {color: BLUE, width: 1.2}, itemStyle: {color: BLUE}, z: 2},
    {name: legendNames[1], type: 'line', data: upperBound, symbol: 'none', clip: true,
      lineStyle: {color: RED, width: 1.2}, itemStyle: {color: RED}, z: 3},
    {name: legendNames[1], type: 'line', data: lowerBound, symbol: 'none', clip: true,
      lineStyle: {color: RED, width: 1.2}, itemStyle: {color: RED}, z: 3}
  ]
});
</script>
</body>
</html>
